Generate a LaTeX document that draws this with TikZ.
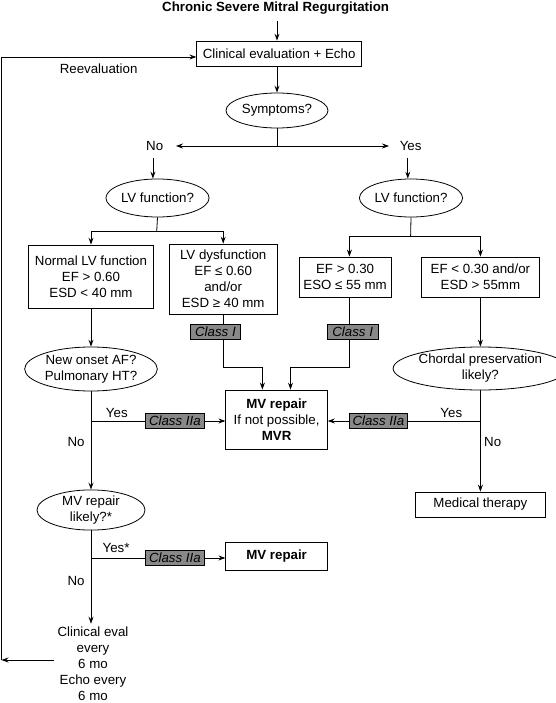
\documentclass[tikz,border=0pt]{standalone}
\usepackage{fontspec}
\setmainfont{Liberation Sans}
\usetikzlibrary{arrows.meta,shapes.geometric}
\definecolor{classgray}{RGB}{136,136,136}
\tikzset{
  arr/.style={-{Stealth[length=7pt,width=5pt,inset=2.5pt]}},
  box/.style={draw,line width=0.8pt,inner sep=0pt,align=center},
  oval/.style={draw,ellipse,line width=0.8pt,inner sep=0pt,align=center},
  classbox/.style={draw,fill=classgray,line width=0.8pt,inner sep=0pt,font=\fontsize{13.3}{16}\selectfont\itshape,minimum height=15pt},
  lbl/.style={inner sep=1pt,align=center}
}
\begin{document}
\begin{tikzpicture}[x=1pt,y=-1pt,line width=0.8pt,font=\fontsize{13.3}{16}\selectfont]
\useasboundingbox (0,0) rectangle (555,703);
% nodes
\node[lbl,font=\fontsize{13.3}{16}\selectfont\bfseries] (title) at (275.6,8) {Chronic Severe Mitral Regurgitation};
\node[box,minimum width=164.6pt,minimum height=25pt] (clin) at (279.1,53.5) {Clinical evaluation + Echo};
\node[lbl] (reev) at (98.6,68.5) {Reevaluation};
\node[oval,minimum width=102pt,minimum height=35pt] (symp) at (277,110.5) {Symptoms?};
\node[lbl] (no) at (154.7,146) {No};
\node[lbl] (yes) at (410.6,146) {Yes};
\node[oval,minimum width=98pt,minimum height=38pt] (lvl) at (157.5,198) {LV function?};
\node[oval,minimum width=97pt,minimum height=38pt] (lvr) at (411,198) {LV function?};
\node[box,minimum width=125.7pt,minimum height=63pt] (normal) at (91,276.5) {Normal LV function\\EF > 0.60\\ESD < 40 mm};
\node[box,minimum width=108pt,minimum height=70pt] (dysf) at (223.2,279) {LV dysfunction\\EF ≤ 0.60\\and/or\\ESD ≥ 40 mm};
\node[box,minimum width=92pt,minimum height=40pt] (ef30) at (345.1,277) {EF > 0.30\\ESO ≤ 55 mm};
\node[box,minimum width=118.6pt,minimum height=40pt] (efl30) at (480.4,277) {EF < 0.30 and/or\\ESD > 55mm};
\node[classbox,minimum width=50.6pt] (cIL) at (215.4,331.5) {Class I};
\node[classbox,minimum width=50.6pt] (cIR) at (352.7,331.5) {Class I};
\node[box,minimum width=101.6pt,minimum height=59pt] (mvr) at (276.6,419.5) {\textbf{MV repair}\\If not possible,\\\textbf{MVR}};
\node[oval,minimum width=132.7pt,minimum height=44pt] (newon) at (91,369) {New onset AF?\\Pulmonary HT?};
\node[oval,minimum width=147pt,minimum height=43pt] (chord) at (480.4,368.5) {Chordal preservation\\likely?};
\node[classbox,minimum width=59.5pt] (c2aL) at (174.9,421) {Class IIa};
\node[classbox,minimum width=57.4pt] (c2aR) at (378.4,421) {Class IIa};
\node[lbl] (yesL) at (116.8,413) {Yes};
\node[lbl] (noL) at (76.1,442) {No};
\node[lbl] (yesR) at (451.3,413) {Yes};
\node[lbl] (noR) at (492.7,442) {No};
\node[box,minimum width=130pt,minimum height=25pt] (med) at (480.4,504.5) {Medical therapy};
\node[oval,minimum width=108pt,minimum height=38pt] (mvl) at (91,510) {MV repair\\likely?*};
\node[classbox,minimum width=59.5pt,minimum height=14.5pt] (c2aL2) at (174.9,558) {Class IIa};
\node[box,minimum width=101.6pt,minimum height=27.3pt,font=\fontsize{13.3}{16}\selectfont\bfseries] (mvrep) at (276.6,556.5) {MV repair};
\node[lbl] (yesS) at (116.1,548) {Yes*};
\node[lbl] (noS) at (76.1,581) {No};
\node[lbl,inner sep=3pt] (clinev) at (93,664) {Clinical eval\\every\\6 mo\\Echo every\\6 mo};
% coordinates
\coordinate (t0) at (277,21);
\coordinate (j0) at (277,146);
\coordinate (noT) at (176,146);
\coordinate (yesT) at (389,146);
\coordinate (na) at (152.9,158);
\coordinate (ya) at (407.8,158);
\coordinate (jl) at (156.7,231);
\coordinate (jr) at (410.6,236.7);
\coordinate (ra) at ([xshift=4.3pt]ef30.south);
\coordinate (e1) at (0,367);
\coordinate (jy1) at (91,421);
\coordinate (jy2) at (480.4,421);
\coordinate (jy3) at (91,558);
\coordinate (lt) at (1.5,57);
\coordinate (lb) at (1.5,660);
% connectors
\draw[arr] (t0) -- (t0 |- clin.north);
\draw[arr] (symp.north |- clin.south) -- (symp.north);
\draw (symp.south) -- (j0);
\draw[arr] (j0) -- (noT);
\draw[arr] (j0) -- (yesT);
\draw[arr] (na) -- (na |- lvl.north);
\draw[arr] (ya) -- (ya |- lvr.north);
\draw (lvl.south) -- (jl);
\draw[arr] (jl) -| (normal.north);
\draw[arr] (jl) -| (dysf.north);
\draw (lvr.south) -- (jr);
\draw[arr] (jr) -| ([xshift=4.3pt]ef30.north);
\draw[arr] (jr) -| (efl30.north);
\draw (dysf.south) -- (dysf.south |- cIL.north);
\draw[arr] (dysf.south |- cIL.south) -- (dysf.south |- e1) -| ([xshift=-14.2pt]mvr.north);
\draw (ra) -- (ra |- cIR.north);
\draw[arr] (ra |- cIR.south) -- (ra |- e1) -| ([xshift=13.9pt]mvr.north);
\draw[arr] (normal.south) -- (newon.north);
\draw (newon.south) -- (jy1);
\draw (jy1) -- (c2aL.west);
\draw[arr] (c2aL.east) -- (mvr.west |- c2aL.east);
\draw[arr] (jy1) -- (mvl.north);
\draw[arr] (efl30.south) -- (chord.north);
\draw (chord.south) -- (jy2);
\draw (jy2) -- (c2aR.east);
\draw[arr] (c2aR.west) -- (mvr.east |- c2aR.west);
\draw[arr] (jy2) -- (med.north);
\draw (mvl.south) -- (jy3);
\draw (jy3) -- (c2aL2.west);
\draw[arr] (c2aL2.east) -- (mvrep.west |- c2aL2.east);
\draw[arr] (jy3) -- (jy3 |- clinev.north);
\draw[arr] (clinev.west |- lb) -- (lb);
\draw (lb) -- (lt);
\draw[arr] (lt) -- (lt -| clin.west);
\end{tikzpicture}
\end{document}
